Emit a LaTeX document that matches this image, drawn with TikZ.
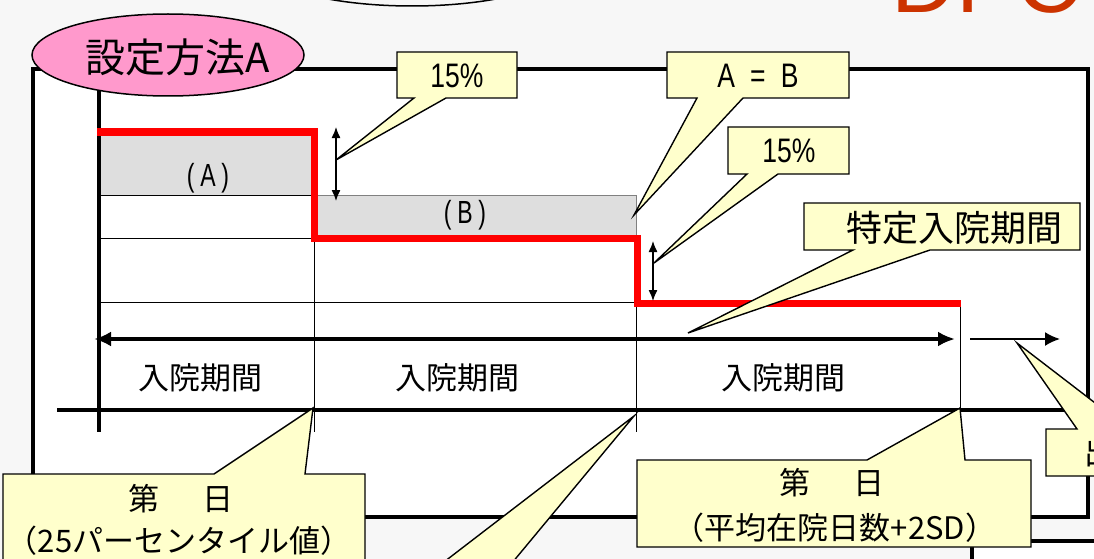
\documentclass[tikz,border=0pt]{standalone}
\usepackage{fontspec}
\usepackage{graphicx}
\usetikzlibrary{arrows.meta}
\newfontfamily\jp{Noto Sans CJK JP}
\newfontfamily\lat{Liberation Sans}
\definecolor{bg}{HTML}{F7F7F7}
\definecolor{cyel}{HTML}{FFFFCC}
\definecolor{cpink}{HTML}{FF99CC}
\definecolor{dpcred}{HTML}{CC3300}
\definecolor{areagray}{HTML}{DEDEDE}
\begin{document}
\begin{tikzpicture}[x=1pt,y=-1pt,
  thinline/.style={line width=1pt, draw=black},
  axisline/.style={line width=4pt, draw=black},
  stepline/.style={line width=7pt, draw=red, line join=miter},
  callout/.style={fill=cyel, draw=black, line width=1.4pt, line join=miter},
  jlabel/.style={inner sep=0pt, font={\jp\fontsize{31pt}{31pt}\selectfont}},
  pct/.style={inner sep=0pt, font={\lat\fontsize{34pt}{34pt}\selectfont}},
  ablabel/.style={inner sep=0pt, font={\lat\fontsize{32pt}{32pt}\selectfont}},
  dblarrow/.style={line width=1.3pt, {Latex[length=11pt,width=9pt]}-{Latex[length=11pt,width=9pt]}},
]
\useasboundingbox (0,0) rectangle (1094,559);
\clip (0,0) rectangle (1094,559);
\fill[bg] (0,0) rectangle (1094,559);

% top ellipse (cut off)
\draw[line width=1.5pt, fill=bg] (412,-40) ellipse [x radius=158pt, y radius=46pt];
% DPC title (cut off)
\node[anchor=base west, inner sep=0pt, text=dpcred, font={\lat\fontsize{90pt}{90pt}\selectfont}] (dpc) at (891,13) {DPC};

% frames
\draw[line width=4pt, fill=white, line join=miter] (33,69) rectangle (1088,517);
\draw[line width=3.5pt, fill=white, line join=miter] (972,541) rectangle (1130,620);

% shaded areas
\fill[areagray] (99,132) rectangle (314,195);
\draw[fill=areagray, draw=gray, line width=0.8pt] (314,195) rectangle (636,238);

% grid
\draw[thinline] (99,195) -- (314,195);
\draw[thinline] (99,238) -- (314,238);
\draw[thinline] (99,302) -- (637,302);
\draw[thinline] (314,238) -- (314,432);
\draw[thinline] (636,303) -- (636,432);
\draw[thinline] (960,303) -- (960,432);

% axes
\draw[axisline] (99,88) -- (99,432);
\draw[axisline] (57,410) -- (1088,410);

% red step line
\draw[stepline] (97,132) -- (314,132) -- (314,238) -- (637,238) -- (637,303) -- (961,303);

% small double arrows
\draw[dblarrow] (336,127) -- (336,201);
\draw[dblarrow] (653,241) -- (653,301);

% long arrows
\draw[line width=4pt, {Latex[length=17pt,width=15pt]}-{Latex[length=17pt,width=15pt]}] (94,339) -- (955,339);
\draw[line width=2pt, -{Latex[length=15pt,width=14pt]}] (970,339) -- (1060,339);

% labels
\node[jlabel] (p1) at (200,378) {入院期間};
\node[jlabel] (p2) at (457,378) {入院期間};
\node[jlabel] (p3) at (783,378) {入院期間};
\node[ablabel] (la) at (208,178) {\scalebox{0.72}[1]{(\hspace{8pt}A\hspace{8pt})}};
\node[ablabel] (lb) at (465,215) {\scalebox{0.72}[1]{(\hspace{8pt}B\hspace{8pt})}};

% pink title ellipse
\draw[line width=1.5pt, fill=cpink] (168,55) ellipse [x radius=136pt, y radius=41pt];
\node[inner sep=0pt, font={\jp\fontsize{40pt}{40pt}\selectfont}] (title) at (178,57) {設定方法A};

% callout 15% (upper)
\coordinate (t1) at (336,160);
\path[callout] (397,52) -- (517,52) -- (517,98) -- (446,98) -- (t1) -- (414,98) -- (397,98) -- cycle;
\node[pct] (c1) at (457,76) {\scalebox{0.78}[1]{15\%}};

% callout A = B
\coordinate (t2) at (634,215);
\path[callout] (667,52) -- (849,52) -- (849,98) -- (743,98) -- (t2) -- (697,98) -- (667,98) -- cycle;
\node[pct] (c2) at (758,76) {\scalebox{0.78}[1]{A\hspace{10pt} = \hspace{10pt}B}};

% callout 15% (lower)
\coordinate (t3) at (654,263);
\path[callout] (728,127) -- (849,127) -- (849,174) -- (778,174) -- (t3) -- (747,174) -- (728,174) -- cycle;
\node[pct] (c3) at (789,151) {\scalebox{0.78}[1]{15\%}};

% callout 特定入院期間
\coordinate (t4) at (688,333);
\path[callout] (804,203) -- (1080,203) -- (1080,250) -- (930,250) -- (t4) -- (853,250) -- (804,250) -- cycle;
\node[inner sep=0pt, font={\jp\fontsize{36pt}{36pt}\selectfont}] (c4) at (954,228) {特定入院期間};

% callout 出 (cut off)
\coordinate (t5) at (1017,343);
\path[callout] (1046,429) -- (1077,429) -- (t5) -- (1129,429) -- (1200,429) -- (1200,476) -- (1046,476) -- cycle;
\node[jlabel, anchor=west] (c5) at (1084,453) {出};

% callout 25 percentile
\coordinate (t6) at (313,408);
\path[callout] (3,474) -- (214,474) -- (t6) -- (305,474) -- (365,474) -- (365,620) -- (3,620) -- cycle;
\node[jlabel] (c6a) at (181,499) {第\hspace{1.4em}日};
\node[jlabel] (c6b) at (179,541) {（25パーセンタイル値）};

% callout mean + 2SD
\coordinate (t7) at (960,408);
\path[callout] (637,460) -- (867,460) -- (t7) -- (965,460) -- (1031,460) -- (1031,547) -- (637,547) -- cycle;
\node[jlabel] (c7a) at (832,483) {第\hspace{1.4em}日};
\node[jlabel] (c7b) at (835,528) {（平均在院日数+2SD）};

% callout middle (box below the picture)
\coordinate (t8) at (634,416);
\path[callout] (250,575) -- (427,575) -- (t8) -- (502,575) -- (620,575) -- (620,650) -- (250,650) -- cycle;
\end{tikzpicture}
\end{document}
